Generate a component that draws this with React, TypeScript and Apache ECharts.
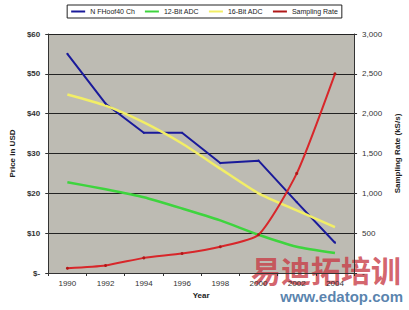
import React, { useEffect, useRef } from "react";
import * as echarts from "echarts";

const years = ["1990", "1992", "1994", "1996", "1998", "2000", "2002", "2004"];
const priceCh = [55, 42.5, 35.2, 35.2, 27.6, 28.2, 17.8, 7.6];
const adc12 = [22.8, 21, 19, 16.2, 13.2, 9.6, 6.6, 5];
const adc16 = [44.8, 42, 37.8, 32.5, 26.2, 20, 15.7, 11.5];
const sampling = [60, 95, 190, 245, 330, 480, 1250, 2500];
const leftTicks = [0, 10, 20, 30, 40, 50, 60];
const rightTicks = [0, 500, 1000, 1500, 2000, 2500, 3000];
const legendNames = ["N FHoof40 Ch", "12-Bit ADC", "16-Bit ADC", "Sampling Rate"];

export default function App() {
  const ref = useRef<HTMLDivElement>(null);
  useEffect(() => {
    const chart = echarts.init(ref.current!, null, { renderer: "svg" });
    const font = "Liberation Sans";
    chart.setOption({
      animation: false,
      backgroundColor: "#ffffff",
      textStyle: { fontFamily: font },
      legend: {
        top: 5,
        left: "center",
        itemWidth: 14,
        itemHeight: 2,
        itemGap: 10,
        padding: [3, 4],
        borderColor: "#222",
        borderWidth: 1,
        icon: "rect",
        textStyle: { fontSize: 7, color: "#222", fontFamily: font },
        data: legendNames,
      },
      grid: { left: 44, right: 44, top: 34, bottom: 37, show: true, backgroundColor: "#bdbbb3", borderColor: "#555", borderWidth: 0 },
      xAxis: {
        type: "category",
        data: years,
        boundaryGap: true,
        name: "Year",
        nameLocation: "middle",
        nameGap: 18,
        nameTextStyle: { fontSize: 8, fontWeight: "bold", color: "#222" },
        axisLine: { lineStyle: { color: "#333" } },
        axisTick: { show: true, length: 3, lineStyle: { color: "#333" } },
        axisLabel: { fontSize: 8, color: "#333", margin: 6 },
      },
      yAxis: [
        {
          type: "value",
          min: 0,
          max: 60,
          interval: 10,
          name: "Price in USD",
          nameLocation: "middle",
          nameGap: 28,
          nameTextStyle: { fontSize: 8, fontWeight: "bold", color: "#222" },
          axisLine: { show: true, lineStyle: { color: "#333" } },
          axisTick: { show: true, length: 3, lineStyle: { color: "#333" } },
          axisLabel: {
            fontSize: 8,
            color: "#333",
            fontWeight: "bold",
            formatter: (v: number) => (v === 0 ? "$-" : "$" + v),
          },
          splitLine: { show: true, lineStyle: { color: "#222", width: 1 } },
        },
        {
          type: "value",
          min: 0,
          max: 3000,
          interval: 500,
          name: "Sampling Rate (kS/s)",
          nameLocation: "middle",
          nameGap: 34,
          nameRotate: 90,
          nameTextStyle: { fontSize: 8, fontWeight: "bold", color: "#222" },
          axisLine: { show: true, lineStyle: { color: "#333" } },
          axisTick: { show: true, length: 3, lineStyle: { color: "#333" } },
          axisLabel: {
            fontSize: 8,
            color: "#333",
            formatter: (v: number) => (v === 0 ? "-" : v.toLocaleString("en-US")),
          },
          splitLine: { show: false },
        },
      ],
      series: [
        {
          name: legendNames[0],
          type: "line",
          data: priceCh,
          yAxisIndex: 0,
          symbol: "circle",
          symbolSize: 2,
          itemStyle: { color: "#1a1a9a" },
          lineStyle: { color: "#1a1a9a", width: 2 },
        },
        {
          name: legendNames[1],
          type: "line",
          data: adc12,
          yAxisIndex: 0,
          symbol: "none",
          smooth: 0.2,
          itemStyle: { color: "#3ed43e" },
          lineStyle: { color: "#3ed43e", width: 2.5 },
        },
        {
          name: legendNames[2],
          type: "line",
          data: adc16,
          yAxisIndex: 0,
          symbol: "none",
          smooth: 0.2,
          itemStyle: { color: "#f2ee66" },
          lineStyle: { color: "#f2ee66", width: 2.5 },
        },
        {
          name: legendNames[3],
          type: "line",
          data: sampling,
          yAxisIndex: 1,
          symbol: "circle",
          symbolSize: 3,
          smooth: 0.2,
          itemStyle: { color: "#b01818" },
          lineStyle: { color: "#d8262a", width: 2 },
        },
      ],
      graphic: [
        {
          type: "text",
          right: 8,
          top: 254,
          style: { text: "易迪拓培训", fontSize: 30, fontWeight: "bold", fontFamily: "Noto Sans CJK SC", fill: "rgba(200,60,70,0.8)" },
        },
        {
          type: "text",
          right: 6,
          top: 289,
          style: { text: "www.edatop.com", fontSize: 15, fontWeight: "bold", fontFamily: font, fill: "rgba(60,110,160,0.85)" },
        },
      ],
    });
    return () => chart.dispose();
  }, []);
  return <div ref={ref} style={{ width: 409, height: 310, position: "absolute", left: 0, top: 0 }} />;
}
